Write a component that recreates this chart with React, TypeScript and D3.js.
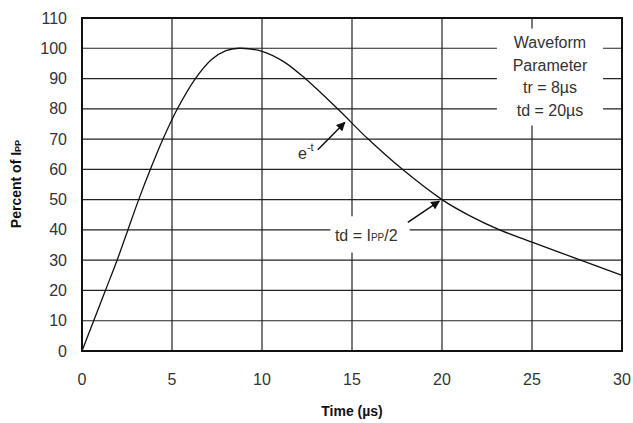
import React, { useEffect, useRef } from "react";
import * as d3 from "d3";

// waveform (time in µs, percent of Ipp)
const times = [0, 0.65, 1.3, 1.95, 2.55, 3.15, 3.8, 4.5, 5.3, 6.3, 7.2, 8, 8.7, 10, 11.2, 12.4, 14.2, 15.9, 17.8, 20, 21.5, 23.2, 25, 27.7, 30];
const percents = [0, 10, 20, 30, 40, 50, 60, 70, 80, 90, 96.3, 99.2, 100, 99, 95.6, 90, 80, 70, 60, 50, 44.8, 40, 36, 30, 25];
const xTicks = [0, 5, 10, 15, 20, 25, 30];
const yTicks = [0, 10, 20, 30, 40, 50, 60, 70, 80, 90, 100, 110];
const legendLines = ["Waveform", "Parameter", "tr = 8µs", "td = 20µs"];

const App = () => {
  const ref = useRef<SVGSVGElement>(null);

  useEffect(() => {
    const width = 633;
    const height = 423;
    const margin = { top: 18, right: 11, bottom: 72, left: 82 };
    const innerWidth = width - margin.left - margin.right;
    const innerHeight = height - margin.top - margin.bottom;

    const svg = d3.select(ref.current);
    svg.selectAll("*").remove();

    const x = d3.scaleLinear().domain([0, 30]).range([0, innerWidth]);
    const y = d3.scaleLinear().domain([0, 110]).range([innerHeight, 0]);

    const defs = svg.append("defs");
    defs.append("marker")
      .attr("id", "arrowhead")
      .attr("viewBox", "0 0 10 10")
      .attr("refX", 9)
      .attr("refY", 5)
      .attr("markerWidth", 9)
      .attr("markerHeight", 9)
      .attr("markerUnits", "userSpaceOnUse")
      .attr("orient", "auto")
      .append("path")
      .attr("d", "M0,0 L10,5 L0,10 z")
      .attr("fill", "#111");

    const g = svg.append("g").attr("transform", `translate(${margin.left}, ${margin.top})`);

    // grid
    g.selectAll(".hgrid")
      .data(yTicks)
      .join("line")
      .attr("x1", 0)
      .attr("x2", innerWidth)
      .attr("y1", d => y(d))
      .attr("y2", d => y(d))
      .attr("stroke", "#222")
      .attr("stroke-width", 1.2);

    g.selectAll(".vgrid")
      .data(xTicks)
      .join("line")
      .attr("x1", d => x(d))
      .attr("x2", d => x(d))
      .attr("y1", 0)
      .attr("y2", innerHeight)
      .attr("stroke", "#222")
      .attr("stroke-width", 1.2);

    // frame
    g.append("rect")
      .attr("width", innerWidth)
      .attr("height", innerHeight)
      .attr("fill", "none")
      .attr("stroke", "#111")
      .attr("stroke-width", 2);

    // tick labels
    g.selectAll(".ylab")
      .data(yTicks)
      .join("text")
      .attr("x", -15)
      .attr("y", d => y(d) + 5.5)
      .attr("text-anchor", "end")
      .attr("font-family", "Liberation Sans, Arial, sans-serif")
      .attr("font-size", 16)
      .attr("fill", "#333")
      .text(d => d);

    g.selectAll(".xlab")
      .data(xTicks)
      .join("text")
      .attr("x", d => x(d))
      .attr("y", innerHeight + 34)
      .attr("text-anchor", "middle")
      .attr("font-family", "Liberation Sans, Arial, sans-serif")
      .attr("font-size", 16)
      .attr("fill", "#333")
      .text(d => d);

    // curve
    const line = d3.line<number>()
      .x((d, i) => x(times[i]))
      .y(d => y(d))
      .curve(d3.curveCatmullRom.alpha(0.5));

    g.append("path")
      .datum(percents)
      .attr("d", line)
      .attr("fill", "none")
      .attr("stroke", "#111")
      .attr("stroke-width", 1.3);

    // legend box
    const lx = x(23.05);
    const lw = x(28.95) - lx;
    g.append("rect")
      .attr("x", lx)
      .attr("y", y(106.5))
      .attr("width", lw)
      .attr("height", y(74.5) - y(106.5))
      .attr("fill", "white");

    g.selectAll(".legend")
      .data(legendLines)
      .join("text")
      .attr("x", lx + lw / 2)
      .attr("y", (d, i) => 30 + i * 22.7)
      .attr("text-anchor", "middle")
      .attr("font-family", "Liberation Sans, Arial, sans-serif")
      .attr("font-size", 16)
      .attr("fill", "#333")
      .text(d => d);

    // e^-t annotation
    const eText = g.append("text")
      .attr("x", x(12))
      .attr("y", y(63.5))
      .attr("font-family", "Liberation Sans, Arial, sans-serif")
      .attr("font-size", 16)
      .attr("fill", "#333");
    eText.append("tspan").text("e");
    eText.append("tspan").attr("font-size", 11).attr("dy", -8).text("-t");

    g.append("line")
      .attr("x1", x(13.1))
      .attr("y1", y(66.5))
      .attr("x2", x(14.6))
      .attr("y2", y(75.5))
      .attr("stroke", "#111")
      .attr("stroke-width", 1.5)
      .attr("marker-end", "url(#arrowhead)");

    // td annotation
    g.append("rect")
      .attr("x", x(13.8))
      .attr("y", y(44.5))
      .attr("width", x(18.2) - x(13.8))
      .attr("height", y(32.5) - y(44.5))
      .attr("fill", "white");

    const tdText = g.append("text")
      .attr("x", x(14.05))
      .attr("y", y(36.5))
      .attr("font-family", "Liberation Sans, Arial, sans-serif")
      .attr("font-size", 16)
      .attr("fill", "#333");
    tdText.append("tspan").text("td = I");
    tdText.append("tspan").attr("font-size", 10).text("PP");
    tdText.append("tspan").text("/2");

    g.append("line")
      .attr("x1", x(18.1))
      .attr("y1", y(42.5))
      .attr("x2", x(19.85))
      .attr("y2", y(49.5))
      .attr("stroke", "#111")
      .attr("stroke-width", 1.5)
      .attr("marker-end", "url(#arrowhead)");

    // axis titles
    svg.append("text")
      .attr("x", margin.left + innerWidth / 2)
      .attr("y", 416)
      .attr("text-anchor", "middle")
      .attr("font-family", "Liberation Sans, Arial, sans-serif")
      .attr("font-size", 14)
      .attr("font-weight", "bold")
      .attr("fill", "#111")
      .text("Time (µs)");

    const yTitle = svg.append("text")
      .attr("transform", "translate(21, 184) rotate(-90)")
      .attr("text-anchor", "middle")
      .attr("font-family", "Liberation Sans, Arial, sans-serif")
      .attr("font-size", 14)
      .attr("font-weight", "bold")
      .attr("fill", "#111");
    yTitle.append("tspan").text("Percent of I");
    yTitle.append("tspan").attr("font-size", 9).text("PP");
  }, []);

  return (
    <svg ref={ref} width={633} height={423} style={{ position: "absolute", left: 0, top: 0 }} />
  );
};

export default App;
